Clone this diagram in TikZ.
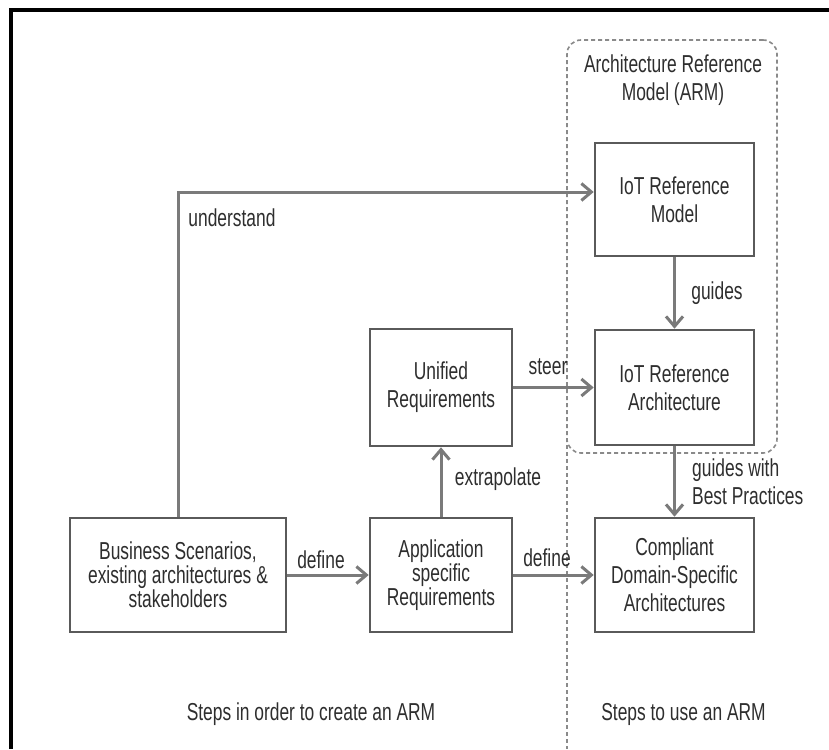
\documentclass[tikz,border=0pt]{standalone}
\usepackage{fontspec}
\setmainfont[FakeStretch=0.71]{Liberation Sans}
\usetikzlibrary{arrows.meta}
\definecolor{boxline}{HTML}{5A5A5A}
\definecolor{arrowc}{HTML}{7A7A7A}
\definecolor{txt}{HTML}{2E2E2E}
\definecolor{dashc}{HTML}{8A8A8A}
\tikzset{
  lbl/.style={font=\fontsize{24.5}{28}\selectfont, text=txt, inner sep=0pt},
  stepbox/.style={draw=boxline, line width=2.6pt, fill=white, align=center,
    font=\fontsize{24.5}{28}\selectfont, text=txt, inner sep=0pt},
  tightbox/.style={stepbox, font=\fontsize{24.5}{24}\selectfont},
  conn/.style={draw=arrowc, line width=3pt,
    -{Straight Barb[length=10pt,width=17pt,line width=3pt]}},
  armbox/.style={draw=dashc, line width=1.6pt, dash pattern=on 4pt off 3pt,
    rounded corners=14pt},
  divider/.style={draw=dashc, line width=1.6pt, dash pattern=on 4pt off 3pt},
}
\begin{document}
\begin{tikzpicture}[x=1pt,y=-1pt]
\useasboundingbox (0,0) rectangle (829,749);
% outer frame
\coordinate (fbl) at (10.5,749);
\coordinate (ftl) at (10.5,10.5);
\coordinate (ftr) at (829,10.5);
\draw[black, line width=4pt] (fbl) -- (ftl) -- (ftr);

% ARM dashed region
\node[armbox, minimum width=210pt, minimum height=413pt, inner sep=0pt] (arm) at (672,246.5) {};
\coordinate (divtop) at (567,438);
\coordinate (divbot) at (567,749);
\draw[divider] (divtop) -- (divbot);
\node[lbl, align=center] (armtitle) at (673,80) {Architecture Reference\\Model (ARM)};

% boxes
\node[stepbox, minimum width=159pt, minimum height=113pt] (iotmodel) at (674.5,199.5) {IoT Reference\\Model};
\node[stepbox, minimum width=159pt, minimum height=115pt] (iotarch) at (674.5,387.5) {IoT Reference\\Architecture};
\node[stepbox, minimum width=159pt, minimum height=114pt] (compliant) at (674.5,575) {Compliant\\Domain-Specific\\Architectures};
\node[stepbox, minimum width=142pt, minimum height=117pt] (unified) at (441,387.5) {Unified\\Requirements};
\node[tightbox, minimum width=142pt, minimum height=114pt] (app) at (441,575) {Application\\specific\\Requirements};
\node[tightbox, minimum width=216pt, minimum height=114pt] (business) at (178,575) {Business Scenarios,\\existing architectures \&\\stakeholders};

% connectors
\coordinate (ubend) at (178,192);
\draw[conn] (business.north) -- (ubend) -- (iotmodel.west |- ubend);
\draw[conn] (business.east) -- (app.west);
\draw[conn] (app.east) -- (compliant.west);
\draw[conn] (app.north) -- (unified.south);
\draw[conn] (unified.east) -- (iotarch.west);
\draw[conn] (iotmodel.south) -- (iotarch.north);
\draw[conn] (iotarch.south) -- (compliant.north);

% connector labels
\node[lbl] (lunderstand) at (232,218) {understand};
\node[lbl] (ldefine1) at (321,560) {define};
\node[lbl] (ldefine2) at (547,558) {define};
\node[lbl] (lextra) at (498,479) {extrapolate};
\node[lbl] (lsteer) at (548,367) {steer};
\node[lbl] (lguides) at (717,293) {guides};
\node[lbl, anchor=west, align=left] (lbest) at (692,482) {guides with\\Best Practices};

% captions
\node[lbl] (capcreate) at (311,714) {Steps in order to create an ARM};
\node[lbl] (capuse) at (683.5,714) {Steps to use an ARM};
\end{tikzpicture}
\end{document}
